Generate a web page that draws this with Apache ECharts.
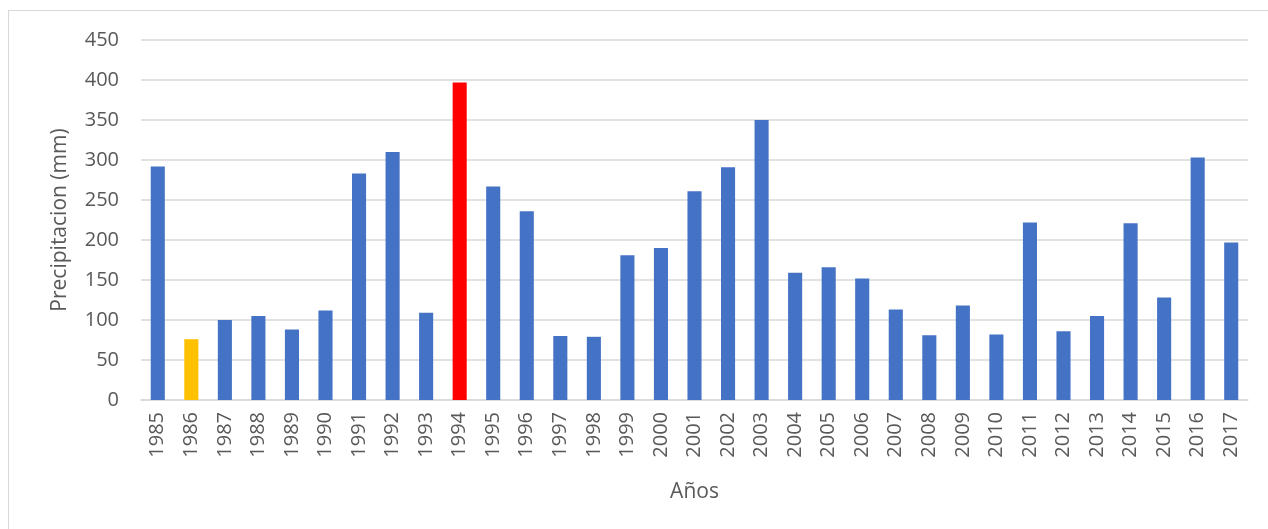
<!DOCTYPE html>
<html>
<head>
<meta charset="utf-8">
<script src="https://cdn.jsdelivr.net/npm/echarts@6/dist/echarts.min.js"></script>
<style>
  html, body { margin: 0; padding: 0; background: #fff; overflow: hidden; }
  .frame {
    position: absolute; left: 8px; top: 10px;
    width: 1300px; height: 600px;
    border: 1px solid #d9d9d9;
  }
  #chart { position: absolute; left: 0; top: 0; width: 1268px; height: 529px; }
</style>
</head>
<body>
<div class="frame"></div>
<div id="chart"></div>
<script>
const years = ["1985","1986","1987","1988","1989","1990","1991","1992","1993","1994","1995",
  "1996","1997","1998","1999","2000","2001","2002","2003","2004","2005","2006",
  "2007","2008","2009","2010","2011","2012","2013","2014","2015","2016","2017"];
const precip = [292, 76, 100, 105, 88, 112, 283, 310, 109, 397, 267,
  236, 80, 79, 181, 190, 261, 291, 350, 159, 166, 152,
  113, 81, 118, 82, 222, 86, 105, 221, 128, 303, 197];
const minYear = "1986";
const maxYear = "1994";

const chart = echarts.init(document.getElementById("chart"));
const font = "'Open Sans', 'Liberation Sans', sans-serif";
const option = {
  animation: false,
  grid: { left: 141, right: 20, top: 40, bottom: 129 },
  xAxis: {
    type: "category",
    data: years,
    name: "Años",
    nameLocation: "middle",
    nameGap: 82,
    nameTextStyle: { fontSize: 21, color: "#595959", fontFamily: font },
    axisLine: { lineStyle: { color: "#d9d9d9", width: 1.5 } },
    axisTick: { show: false },
    axisLabel: { rotate: 90, fontSize: 20, color: "#595959", fontFamily: font, margin: 12, interval: 0 }
  },
  yAxis: {
    type: "value",
    min: 0,
    max: 450,
    interval: 50,
    name: "Precipitacion (mm)",
    nameLocation: "middle",
    nameGap: 70,
    nameTextStyle: { fontSize: 21, color: "#595959", fontFamily: font },
    axisLine: { show: false },
    axisTick: { show: false },
    axisLabel: { fontSize: 20, color: "#595959", fontFamily: font, margin: 22 },
    splitLine: { lineStyle: { color: "#d9d9d9", width: 1.5 } }
  },
  series: [{
    type: "bar",
    barCategoryGap: "58%",
    data: precip.map((v, i) => ({
      value: v,
      itemStyle: {
        color: years[i] === maxYear ? "#ff0000" : years[i] === minYear ? "#ffc000" : "#4472c4"
      }
    }))
  }]
};
chart.setOption(option);
</script>
</body>
</html>
